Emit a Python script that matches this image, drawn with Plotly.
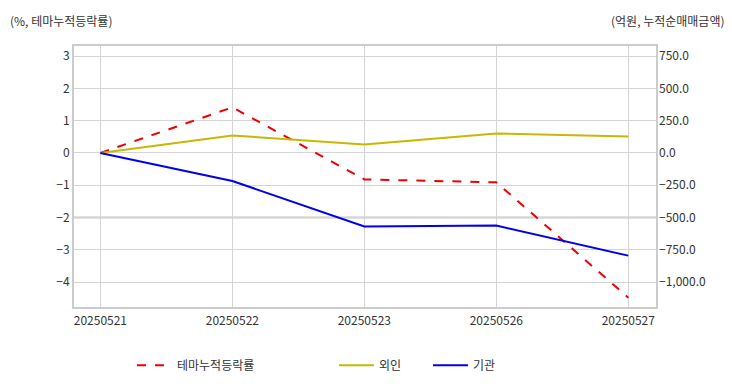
import plotly.graph_objects as go

dates = ["20250521", "20250522", "20250523", "20250526", "20250527"]
theme_pct = [0.0, 1.41, -0.82, -0.91, -4.48]
foreign_amt = [0.0, 135.0, 66.0, 150.0, 127.0]
inst_amt = [0.0, -217.0, -570.0, -562.0, -795.0]

left_ticks = [-4, -3, -2, -1, 0, 1, 2, 3]
right_ticks = [-1000, -750, -500, -250, 0, 250, 500, 750]

font_family = "Noto Sans CJK KR"
txt_color = "#333333"

W, H = 724, 384
ML, MR, MT, MB = 66, 76, 38, 77
PW, PH = W - ML - MR, H - MT - MB

fig = go.Figure()
fig.add_trace(go.Scatter(x=dates, y=theme_pct, name="테마누적등락률", mode="lines",
                         line=dict(color="#ee0000", width=2, dash="dash"), yaxis="y",
                         legend="legend"))
fig.add_trace(go.Scatter(x=dates, y=foreign_amt, name="외인", mode="lines",
                         line=dict(color="#c8b800", width=2), yaxis="y2",
                         legend="legend2"))
fig.add_trace(go.Scatter(x=dates, y=inst_amt, name="기관", mode="lines",
                         line=dict(color="#0000ee", width=2), yaxis="y2",
                         legend="legend3"))

leg_y = -(367 - (H - MB)) / PH
def leg(xpx):
    return dict(orientation="h", x=(xpx - ML) / PW, xanchor="left", y=leg_y,
                yanchor="middle", font=dict(size=12, color=txt_color),
                itemwidth=35, bgcolor="rgba(0,0,0,0)")

fig.update_layout(
    width=W, height=H,
    margin=dict(l=ML, r=MR, t=MT, b=MB),
    paper_bgcolor="white", plot_bgcolor="white",
    font=dict(family=font_family, size=12, color=txt_color),
    xaxis=dict(type="category", range=[-0.2, 4.21], showgrid=True, gridcolor="#d4d4d4",
               gridwidth=1, ticks="", showline=True, linecolor="#cccccc", linewidth=2,
               mirror=True, tickfont=dict(size=12, color=txt_color), automargin=False,
               ticklabelstandoff=2),
    yaxis=dict(range=[-4.77, 3.31], tickvals=left_ticks, showgrid=True, gridcolor="#d4d4d4",
               zeroline=False, showline=True, linecolor="#cccccc", linewidth=2, mirror=True,
               ticks="", tickfont=dict(size=12, color=txt_color), automargin=False),
    yaxis2=dict(range=[-1192.5, 827.5], tickvals=right_ticks, tickformat=",.1f", overlaying="y",
                side="right", showgrid=False, zeroline=False, ticks="",
                tickfont=dict(size=12, color=txt_color), automargin=False,
                ticklabelstandoff=2),
    legend=leg(124),
    legend2=leg(326),
    legend3=leg(420),
    showlegend=True,
)

fig.add_shape(type="line", xref="paper", x0=0, x1=1, yref="y", y0=-2, y1=-2,
              line=dict(color="#c4c4c4", width=2), layer="below")

fig.add_annotation(text="(%, 테마누적등락률)", xref="paper", yref="paper",
                   x=(0 - ML) / PW, y=1 + (MT - 12) / PH, xanchor="left", yanchor="middle",
                   showarrow=False, font=dict(size=12, color=txt_color))
fig.add_annotation(text="(억원, 누적순매매금액)", xref="paper", yref="paper",
                   x=(719 - ML) / PW, y=1 + (MT - 12) / PH, xanchor="right", yanchor="middle",
                   showarrow=False, font=dict(size=12, color=txt_color))

fig.write_html("out.html")
